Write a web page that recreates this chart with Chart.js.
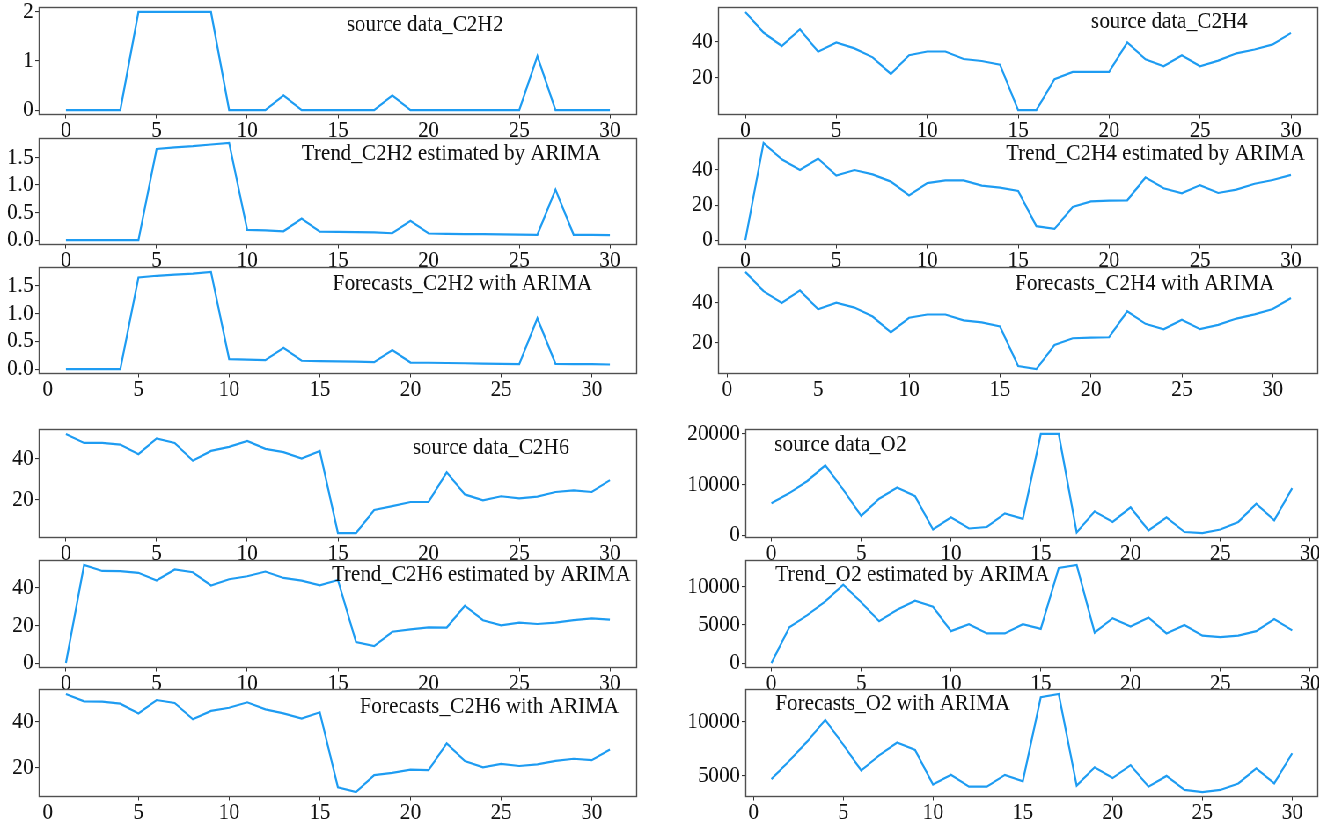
<!DOCTYPE html>
<html>
<head>
<meta charset="utf-8">
<script src="https://cdn.jsdelivr.net/npm/chart.js@4/dist/chart.umd.min.js"></script>
<style>
  html, body { margin: 0; padding: 0; background: #fff; overflow: hidden; }
  #page { position: relative; width: 1319px; height: 826px; overflow: hidden; background: #fff; }
  /* the figure is laid out wider and compressed horizontally, giving tall narrow lettering */
  #fig { position: absolute; left: 0; top: 0; height: 826px; transform-origin: 0 0; }
  #fig canvas { position: absolute; }
</style>
</head>
<body>
<div id="page"><div id="fig"></div></div>
<script>
// ---- sample indices ----
const sampleIdx   = [0,1,2,3,4,5,6,7,8,9,10,11,12,13,14,15,16,17,18,19,20,21,22,23,24,25,26,27,28,29,30];
const forecastIdx = [1,2,3,4,5,6,7,8,9,10,11,12,13,14,15,16,17,18,19,20,21,22,23,24,25,26,27,28,29,30,31];
const o2Idx       = [0,1,2,3,4,5,6,7,8,9,10,11,12,13,14,15,16,17,18,19,20,21,22,23,24,25,26,27,28,29];
const o2ForecastIdx = [1,2,3,4,5,6,7,8,9,10,11,12,13,14,15,16,17,18,19,20,21,22,23,24,25,26,27,28,29,30];

// ---- C2H2 ----
const c2h2Source   = [0,0,0,0,2,2,2,2,2,0,0,0,0.3,0,0,0,0,0,0.3,0,0,0,0,0,0,0,1.1,0,0,0,0];
const c2h2Trend    = [0,0,0,0,0,1.65,1.68,1.70,1.73,1.76,0.185,0.175,0.16,0.39,0.155,0.15,0.145,0.14,0.125,0.35,0.12,0.115,0.11,0.108,0.105,0.1,0.096,0.915,0.096,0.095,0.092];
const c2h2Forecast = [0,0,0,0,1.64,1.67,1.69,1.71,1.74,0.18,0.17,0.16,0.38,0.15,0.145,0.14,0.135,0.125,0.34,0.118,0.114,0.11,0.105,0.1,0.095,0.09,0.91,0.095,0.09,0.088,0.083];

// ---- C2H6 ----
const c2h6Source   = [52,47.6,47.6,46.8,42.1,49.8,47.6,38.9,43.7,45.7,48.6,44.7,43.1,40,43.7,3.5,3.5,14.8,16.7,18.7,18.7,33.2,22.4,19.5,21.5,20.5,21.3,23.6,24.4,23.6,29.4];
const c2h6Trend    = [0,52,48.8,48.7,47.8,43.7,49.6,48.1,41.1,44.4,46,48.5,45.1,43.7,41.2,44,11.1,9,16.6,17.9,18.9,18.8,30.4,22.7,20,21.4,20.7,21.4,22.8,23.7,23];
const c2h6Forecast = [52.4,49.1,49,48.1,43.8,49.7,48.4,41.2,44.9,46.3,48.7,45.6,43.8,41.5,44.3,11.2,9.1,16.6,17.6,19,18.8,30.6,22.8,20,21.5,20.6,21.3,22.9,23.8,23.2,27.9];

// ---- C2H4 ----
const c2h4Source   = [56.2,44.9,37.5,46.7,34.4,39.5,36.2,31.3,22.2,32.5,34.5,34.5,30.4,29.3,27.3,2.4,2.4,19.3,23.3,23.3,23.3,39.5,30.2,26.4,32.5,26.4,29.5,33.5,35.6,38.4,44.7];
const c2h4Trend    = [0,55.5,46.1,40,46.6,36.8,40,37.5,33.4,25.5,32.5,34.1,34.1,31.1,30,28.1,8,6.4,18.9,22.1,22.5,22.7,35.8,29.6,26.7,31.4,26.9,28.8,32.2,34.3,37.2];
const c2h4Forecast = [55,45.5,39.7,45.9,36.6,39.8,37.4,33,25.2,32.4,34,34,31.1,30.1,28.1,8.6,7.1,19,22.3,22.6,22.8,35.6,29.4,26.7,31.4,26.8,28.9,32,34.1,36.7,42.1];

// ---- O2 ----
const o2Source   = [6300,8300,10700,13800,9000,3800,7200,9400,7700,1100,3500,1300,1600,4300,3200,20000,20000,500,4700,2600,5500,900,3500,600,400,1100,2600,6200,2900,9300];
const o2Trend    = [0,4700,6300,8100,10300,8000,5500,7000,8200,7400,4200,5100,3900,3900,5100,4500,12500,12900,4000,5900,4800,6000,3900,5000,3600,3400,3600,4200,5800,4300];
const o2Forecast = [4700,6400,8200,10200,7900,5500,6900,8100,7400,4200,5100,4000,4000,5100,4500,12300,12600,4100,5800,4800,6000,4000,5000,3700,3500,3700,4300,5700,4300,7100];

// ---- tick values ----
const xTickValues      = [0,5,10,15,20,25,30];
const yTicksC2H2Source = [0,1,2];
const yTicksC2H2Fit    = [0,0.5,1,1.5];
const yTicksGas        = [20,40];
const yTicksGasZero    = [0,20,40];
const yTicksO2Source   = [0,10000,20000];
const yTicksO2Trend    = [0,5000,10000];
const yTicksO2Forecast = [5000,10000];

// horizontal compression of the whole figure
const SX = 0.88;

// ---- panel layout (plot box in page pixels, caption offset inside the box) ----
const LEFT  = { l: 39,  r: 637 };
const RIGHT = { l: 718, r: 1318 };
const O2COL = { l: 745, r: 1318 };
const ROWS = [
  { t: 7,   b: 115 },
  { t: 138, b: 245 },
  { t: 267, b: 374 },
  { t: 429, b: 538 },
  { t: 560, b: 668 },
  { t: 689, b: 797 }
];

const panels = [
  { col: LEFT,  row: ROWS[0], x: sampleIdx,   y: c2h2Source,   yTicks: yTicksC2H2Source, dec: 0, title: 'source data_C2H2',              tx: 308,   ty: 18 },
  { col: LEFT,  row: ROWS[1], x: sampleIdx,   y: c2h2Trend,    yTicks: yTicksC2H2Fit,    dec: 1, title: 'Trend_C2H2 estimated by ARIMA', tx: 263,   ty: 16 },
  { col: LEFT,  row: ROWS[2], x: forecastIdx, y: c2h2Forecast, yTicks: yTicksC2H2Fit,    dec: 1, title: 'Forecasts_C2H2 with ARIMA',     tx: 294,   ty: 16.5 },
  { col: LEFT,  row: ROWS[3], x: sampleIdx,   y: c2h6Source,   yTicks: yTicksGas,        dec: 0, title: 'source data_C2H6',              tx: 374,   ty: 18.5 },
  { col: LEFT,  row: ROWS[4], x: sampleIdx,   y: c2h6Trend,    yTicks: yTicksGasZero,    dec: 0, title: 'Trend_C2H6 estimated by ARIMA', tx: 293,   ty: 15 },
  { col: LEFT,  row: ROWS[5], x: forecastIdx, y: c2h6Forecast, yTicks: yTicksGas,        dec: 0, title: 'Forecasts_C2H6 with ARIMA',     tx: 321,   ty: 17.5 },
  { col: RIGHT, row: ROWS[0], x: sampleIdx,   y: c2h4Source,   yTicks: yTicksGas,        dec: 0, title: 'source data_C2H4',              tx: 373,   ty: 14.5 },
  { col: RIGHT, row: ROWS[1], x: sampleIdx,   y: c2h4Trend,    yTicks: yTicksGasZero,    dec: 0, title: 'Trend_C2H4 estimated by ARIMA', tx: 288,   ty: 15.5 },
  { col: RIGHT, row: ROWS[2], x: forecastIdx, y: c2h4Forecast, yTicks: yTicksGas,        dec: 0, title: 'Forecasts_C2H4 with ARIMA',     tx: 297,   ty: 16.5 },
  { col: O2COL, row: ROWS[3], x: o2Idx,         y: o2Source,   yTicks: yTicksO2Source,   dec: 0, title: 'source data_O2',                tx: 29,    ty: 16 },
  { col: O2COL, row: ROWS[4], x: o2Idx,         y: o2Trend,    yTicks: yTicksO2Trend,    dec: 0, title: 'Trend_O2 estimated by ARIMA',   tx: 30,    ty: 15 },
  { col: O2COL, row: ROWS[5], x: o2ForecastIdx, y: o2Forecast, yTicks: yTicksO2Forecast, dec: 0, title: 'Forecasts_O2 with ARIMA',       tx: 30,    ty: 14.5 }
];

const FONT_FAMILY = '"Liberation Serif", "Times New Roman", Times, serif';
const FONT_SIZE = 24;
const TICK_FONT = { family: FONT_FAMILY, size: FONT_SIZE, lineHeight: 1 };
const TEXT_COLOR = '#111';
const LINE_COLOR = 'rgb(30,156,242)';
const FRAME_COLOR = '#505050';

// frame around the plot area plus the in-plot caption
const framePlugin = {
  id: 'frameAndCaption',
  afterDatasetsDraw(chart, args, opts) {
    const a = chart.chartArea;
    const ctx = chart.ctx;
    ctx.save();
    ctx.strokeStyle = FRAME_COLOR;
    ctx.lineWidth = 1.4;
    ctx.strokeRect(a.left + 0.5, a.top + 0.5, a.right - a.left - 1, a.bottom - a.top - 1);
    ctx.fillStyle = TEXT_COLOR;
    ctx.font = FONT_SIZE + 'px ' + FONT_FAMILY;
    ctx.textAlign = 'left';
    ctx.textBaseline = 'middle';
    ctx.fillText(opts.text, a.left + opts.x, a.top + opts.y);
    ctx.restore();
  }
};

// matplotlib-style autoscale: 5% margin on each side
function padded(vals) {
  const lo = Math.min(...vals), hi = Math.max(...vals);
  const m = (hi - lo) * 0.05;
  return [lo - m, hi + m];
}

const fig = document.getElementById('fig');
fig.style.width = Math.ceil(1319 / SX) + 'px';
fig.style.transform = 'scaleX(' + SX + ')';

const AXIS_W = 80, PAD_T = 22, PAD_R = 22, AXIS_H = 34;

panels.forEach(p => {
  const left = Math.round(p.col.l / SX), right = Math.round(p.col.r / SX);
  const bw = right - left, bh = p.row.b - p.row.t;
  const w = AXIS_W + bw + PAD_R, h = PAD_T + bh + AXIS_H;
  const cv = document.createElement('canvas');
  cv.width = w; cv.height = h;
  cv.style.width = w + 'px'; cv.style.height = h + 'px';
  cv.style.left = (left - AXIS_W) + 'px';
  cv.style.top = (p.row.t - PAD_T) + 'px';
  fig.appendChild(cv);

  const [xMin, xMax] = padded(p.x);
  const [yMin, yMax] = padded(p.y);

  new Chart(cv, {
    type: 'line',
    data: {
      datasets: [{
        data: p.x.map((xv, i) => ({ x: xv, y: p.y[i] })),
        borderColor: LINE_COLOR,
        borderWidth: 2.2,
        pointRadius: 0,
        tension: 0,
        fill: false
      }]
    },
    options: {
      responsive: false,
      animation: false,
      devicePixelRatio: 1,
      layout: { padding: { left: 0, top: PAD_T, right: PAD_R, bottom: 0 } },
      plugins: {
        legend: { display: false },
        tooltip: { enabled: false },
        frameAndCaption: { text: p.title, x: p.tx / SX, y: p.ty }
      },
      scales: {
        x: {
          type: 'linear',
          min: xMin, max: xMax,
          afterBuildTicks: s => { s.ticks = xTickValues.map(v => ({ value: v })); },
          afterFit: s => { s.height = AXIS_H; },
          ticks: { font: TICK_FONT, color: TEXT_COLOR, padding: 0, autoSkip: false, maxRotation: 0,
                   callback: v => String(v) },
          grid: { drawOnChartArea: false, drawTicks: true, tickLength: 3.5, color: '#333', lineWidth: 1 },
          border: { display: false }
        },
        y: {
          type: 'linear',
          min: yMin, max: yMax,
          afterBuildTicks: s => { s.ticks = p.yTicks.map(v => ({ value: v })); },
          afterFit: s => { s.width = AXIS_W; },
          ticks: { font: TICK_FONT, color: TEXT_COLOR, padding: 2, autoSkip: false,
                   callback: v => Number(v).toFixed(p.dec) },
          grid: { drawOnChartArea: false, drawTicks: true, tickLength: 4, color: '#333', lineWidth: 1.1 },
          border: { display: false }
        }
      }
    },
    plugins: [framePlugin]
  });
});
</script>
</body>
</html>
